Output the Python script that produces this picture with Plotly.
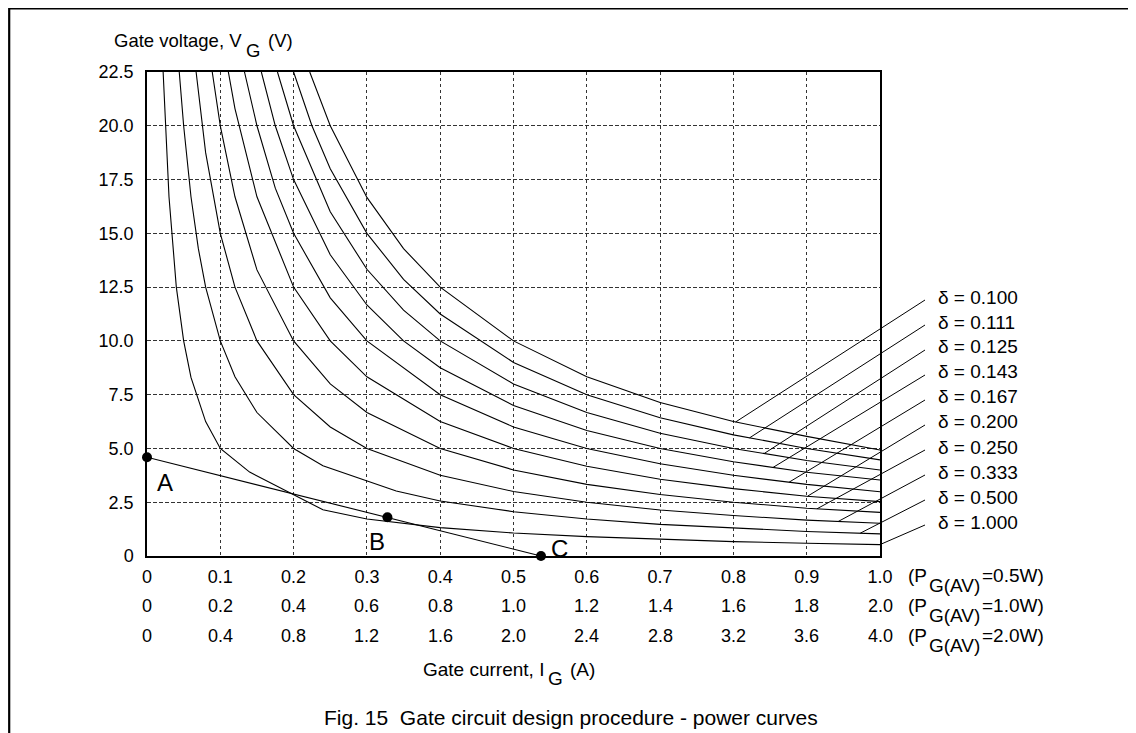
import plotly.graph_objects as go
import numpy as np

# ---------------- data ----------------
deltas = [0.100, 0.111, 0.125, 0.143, 0.167, 0.200, 0.250, 0.333, 0.500, 1.000]
delta_labels = ["δ = 0.100", "δ = 0.111", "δ = 0.125", "δ = 0.143", "δ = 0.167",
                "δ = 0.200", "δ = 0.250", "δ = 0.333", "δ = 0.500", "δ = 1.000"]

# power curves (gate current I in A at 0.5 W scale, gate voltage V in V)
i_100 = [0.222, 0.25, 0.3, 0.35, 0.4, 0.5, 0.6, 0.7, 0.8, 0.9, 1.0]
v_100 = [22.5, 20.0, 16.67, 14.29, 12.5, 10.0, 8.33, 7.14, 6.25, 5.56, 4.93]
i_111 = [0.2, 0.225, 0.25, 0.3, 0.35, 0.4, 0.5, 0.6, 0.7, 0.8, 0.9, 1.0]
v_111 = [22.5, 20.0, 18.0, 15.0, 12.86, 11.25, 9.0, 7.5, 6.43, 5.63, 5.0, 4.47]
i_125 = [0.178, 0.2, 0.25, 0.3, 0.35, 0.4, 0.5, 0.6, 0.7, 0.8, 0.9, 1.0]
v_125 = [22.5, 20.0, 16.0, 13.33, 11.43, 10.0, 8.0, 6.67, 5.71, 5.0, 4.44, 4.0]
i_143 = [0.156, 0.175, 0.2, 0.25, 0.3, 0.35, 0.4, 0.5, 0.6, 0.7, 0.8, 0.9, 1.0]
v_143 = [22.5, 20.0, 17.5, 14.0, 11.67, 10.0, 8.75, 7.0, 5.83, 5.0, 4.38, 3.89, 3.53]
i_167 = [0.133, 0.15, 0.175, 0.2, 0.25, 0.3, 0.4, 0.5, 0.6, 0.7, 0.8, 0.9, 1.0]
v_167 = [22.5, 20.0, 17.1, 15.0, 12.0, 10.0, 7.5, 6.0, 5.0, 4.29, 3.75, 3.33, 2.99]
i_200 = [0.111, 0.12, 0.15, 0.2, 0.25, 0.3, 0.4, 0.5, 0.6, 0.7, 0.8, 0.9, 1.0]
v_200 = [22.5, 20.8, 16.7, 12.5, 10.0, 8.33, 6.25, 5.0, 4.17, 3.57, 3.13, 2.78, 2.53]
i_250 = [0.089, 0.1, 0.12, 0.15, 0.2, 0.25, 0.3, 0.4, 0.5, 0.6, 0.7, 0.8, 0.9, 1.0]
v_250 = [22.5, 20.0, 16.7, 13.3, 10.0, 8.0, 6.67, 5.0, 4.0, 3.33, 2.86, 2.5, 2.22, 2.03]
i_333 = [0.067, 0.08, 0.1, 0.12, 0.15, 0.2, 0.25, 0.3, 0.4, 0.5, 0.6, 0.7, 0.8, 0.9, 1.0]
v_333 = [22.5, 18.75, 15.0, 12.5, 10.0, 7.5, 6.0, 5.0, 3.75, 3.0, 2.5, 2.14, 1.88, 1.67, 1.52]
i_500 = [0.044, 0.05, 0.06, 0.07, 0.08, 0.1, 0.12, 0.15, 0.2, 0.24, 0.34, 0.4, 0.5, 0.6, 0.7, 0.8, 0.9, 1.0]
v_500 = [22.5, 20.0, 16.7, 14.3, 12.5, 10.0, 8.33, 6.67, 5.0, 4.2, 3.02, 2.56, 2.06, 1.72, 1.47, 1.29, 1.14, 1.03]
i_1000 = [0.022, 0.03, 0.04, 0.05, 0.06, 0.08, 0.10, 0.14, 0.24, 0.3, 0.4, 0.5, 0.6, 0.7, 0.8, 0.9, 1.0]
v_1000 = [22.5, 16.7, 12.5, 10.0, 8.3, 6.25, 5.0, 3.9, 2.15, 1.72, 1.32, 1.07, 0.9, 0.77, 0.67, 0.59, 0.53]

curves_I = [i_100, i_111, i_125, i_143, i_167, i_200, i_250, i_333, i_500, i_1000]
curves_V = [v_100, v_111, v_125, v_143, v_167, v_200, v_250, v_333, v_500, v_1000]

# where each label's leader line touches its curve (gate current, A)
leader_I = [0.803, 0.822, 0.842, 0.854, 0.876, 0.901, 0.914, 0.943, 0.973, 1.0]

# design points A, B, C on the load line
pt_names = ["A", "B", "C"]
pt_I = [0.0, 0.328, 0.5375]
pt_V = [4.59, 1.80, 0.0]

# axis ticks
x_ticks = [0, 0.1, 0.2, 0.3, 0.4, 0.5, 0.6, 0.7, 0.8, 0.9, 1.0]
x_text_05W = ["0", "0.1", "0.2", "0.3", "0.4", "0.5", "0.6", "0.7", "0.8", "0.9", "1.0"]
x_text_1W = ["0", "0.2", "0.4", "0.6", "0.8", "1.0", "1.2", "1.4", "1.6", "1.8", "2.0"]
x_text_2W = ["0", "0.4", "0.8", "1.2", "1.6", "2.0", "2.4", "2.8", "3.2", "3.6", "4.0"]
power_rows = ["=0.5W)", "=1.0W)", "=2.0W)"]
y_ticks = [0, 2.5, 5.0, 7.5, 10.0, 12.5, 15.0, 17.5, 20.0, 22.5]
y_text = ["0", "2.5", "5.0", "7.5", "10.0", "12.5", "15.0", "17.5", "20.0", "22.5"]

# ---------------- layout geometry ----------------
OFF = 8                      # page offset of the figure (body margin)
W, H = 1128, 725
ML, MR, MT, MB = 139, 256, 64, 177
PW, PH = W - ML - MR, H - MT - MB
YMAX = 22.5
FONT = "Liberation Sans, Arial, sans-serif"


def px_x(px):
    return (px - OFF - ML) / PW


def px_y(py):
    return (H - MB - (py - OFF)) / PH


fig = go.Figure()

for I, V in zip(curves_I, curves_V):
    fig.add_trace(go.Scatter(x=I, y=V, mode="lines",
                             line=dict(color="black", width=1.1),
                             hoverinfo="skip", showlegend=False))

fig.add_trace(go.Scatter(x=pt_I, y=pt_V, mode="lines+markers",
                         line=dict(color="black", width=1.1),
                         marker=dict(color="black", size=10),
                         cliponaxis=False, hoverinfo="skip", showlegend=False))

shapes = []
annotations = []

# leader lines + delta labels
for k, (lab, I, V, li) in enumerate(zip(delta_labels, curves_I, curves_V, leader_I)):
    ly = 297 + 25 * k
    vy = float(np.interp(li, I, V))
    shapes.append(dict(type="line", xref="paper", yref="paper",
                       x0=px_x(925), y0=px_y(ly + 3), x1=li, y1=vy / YMAX,
                       line=dict(color="black", width=1)))
    annotations.append(dict(text=lab, xref="paper", yref="paper",
                            x=px_x(936), y=px_y(ly), xanchor="left", yanchor="middle",
                            showarrow=False, font=dict(size=19, color="black", family=FONT)))

# second and third rows of current scale
for row, texts in enumerate([x_text_1W, x_text_2W]):
    ry = 606 + 30 * row
    for xv, t in zip(x_ticks, texts):
        annotations.append(dict(text=t, xref="x", yref="paper", x=xv, y=px_y(ry),
                                xanchor="center", yanchor="middle", showarrow=False,
                                font=dict(size=18, color="black", family=FONT)))

# power annotations (P_G(AV)=...)
pfont = dict(size=19, color="black", family=FONT)
for row, ptxt in enumerate(power_rows):
    ry = 575 + 30 * row
    annotations.append(dict(text="(P", xref="paper", yref="paper", x=px_x(907), y=px_y(ry),
                            xanchor="left", yanchor="middle", showarrow=False, font=pfont,
                            borderpad=0))
    annotations.append(dict(text="G(AV)", xref="paper", yref="paper", x=px_x(928), y=px_y(ry + 10),
                            xanchor="left", yanchor="middle", showarrow=False, font=pfont,
                            borderpad=0))
    annotations.append(dict(text=ptxt, xref="paper", yref="paper", x=px_x(981), y=px_y(ry),
                            xanchor="left", yanchor="middle", showarrow=False, font=pfont,
                            borderpad=0))

# point labels
for name, (cx, cy) in zip(pt_names, [(165, 482), (377, 541), (559, 548)]):
    annotations.append(dict(text=name, xref="paper", yref="paper", x=px_x(cx), y=px_y(cy),
                            xanchor="center", yanchor="middle", showarrow=False,
                            font=dict(size=24, color="black", family=FONT)))

# axis titles with subscripts
for txt, lx, cy, fs in [("Gate voltage, V", 113, 40, 18.5), ("G", 245, 50, 18.5), ("(V)", 267, 40, 18.5),
                        ("Gate current, I", 422, 669, 19), ("G", 547, 679, 19), ("(A)", 569, 669, 19)]:
    annotations.append(dict(text=txt, xref="paper", yref="paper", x=px_x(lx), y=px_y(cy),
                            xanchor="left", yanchor="middle", showarrow=False,
                            font=dict(size=fs, color="black", family=FONT), borderpad=0))

# caption
annotations.append(dict(text="Fig. 15  Gate circuit design procedure - power curves",
                        xref="paper", yref="paper", x=px_x(571), y=px_y(717),
                        xanchor="center", yanchor="middle", showarrow=False,
                        font=dict(size=21, color="black", family=FONT)))

# outer frame (open at the bottom edge of the picture)
shapes.append(dict(type="rect", xref="paper", yref="paper",
                   x0=(1.2 - ML) / PW, x1=(1124 - ML) / PW,
                   y0=-(MB + 60) / PH, y1=(H - MB - 0.5) / PH,
                   line=dict(color="black", width=2.2)))

fig.update_layout(
    width=W, height=H,
    margin=dict(l=ML, r=MR, t=MT, b=MB),
    paper_bgcolor="white", plot_bgcolor="white",
    font=dict(family=FONT, color="black"),
    shapes=shapes, annotations=annotations,
    xaxis=dict(range=[0, 1.0], tickmode="array", tickvals=x_ticks, ticktext=x_text_05W,
               showgrid=True, gridcolor="#333", gridwidth=1, griddash="3px,3px",
               zeroline=False, showline=True, linecolor="black", linewidth=1.5, mirror=True,
               ticks="", ticklabelstandoff=4, tickfont=dict(size=18, color="black", family=FONT)),
    yaxis=dict(range=[0, YMAX], tickmode="array", tickvals=y_ticks, ticktext=y_text,
               showgrid=True, gridcolor="#333", gridwidth=1, griddash="4px,2px",
               zeroline=False, showline=True, linecolor="black", linewidth=1.5, mirror=True,
               ticks="", ticklabelstandoff=8, tickfont=dict(size=18, color="black", family=FONT)),
)

fig.write_html("out.html")
